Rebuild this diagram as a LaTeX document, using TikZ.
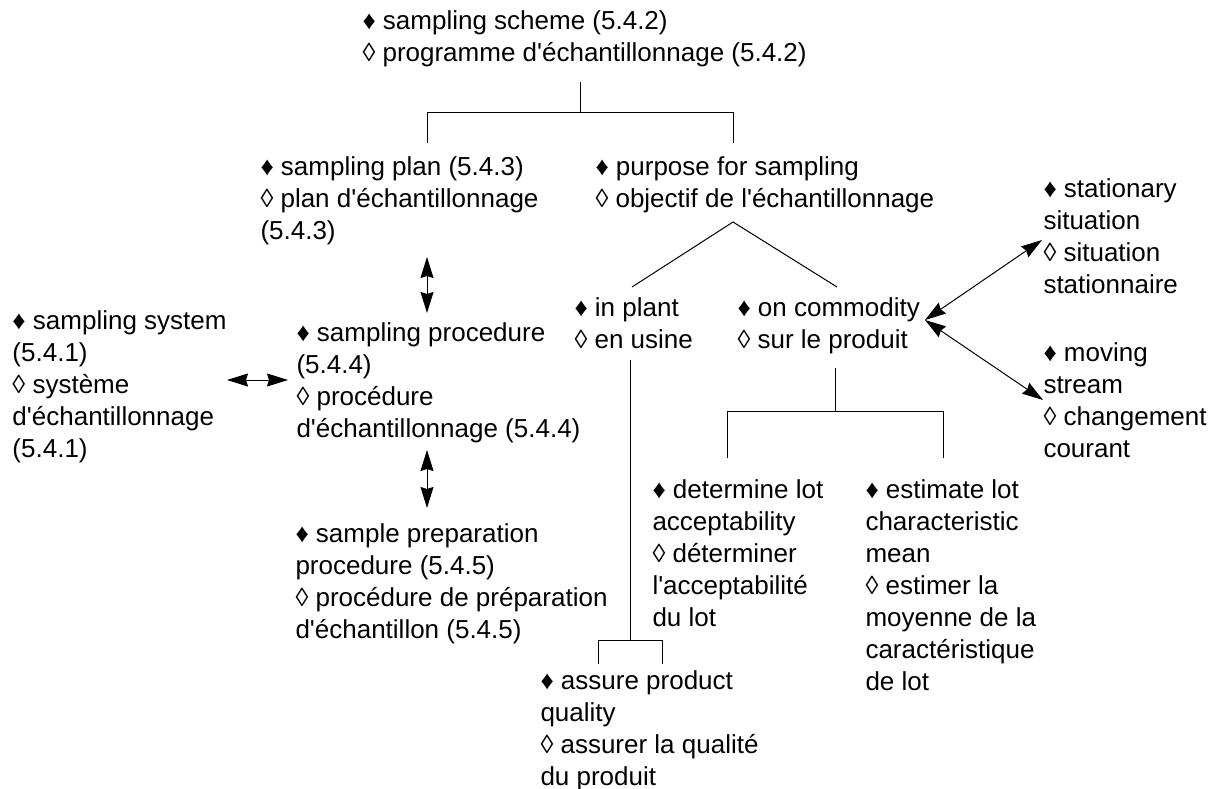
\documentclass[tikz,border=0pt]{standalone}
\usepackage{fontspec}
\setmainfont{Liberation Sans}[Ligatures=TeXOff]
\usetikzlibrary{arrows.meta}

\begin{document}
\begin{tikzpicture}[x=1pt, y=-1pt, line width=1pt,
        txt/.style={anchor=north west, align=left, inner sep=0pt, font=\fontsize{26}{32}\selectfont},
        dar/.style={{Stealth[length=21pt,width=13pt,inset=2pt]}-{Stealth[length=21pt,width=13pt,inset=2pt]}}]
        \useasboundingbox (0,0) rectangle (1216,789);
        % Begriffe
        \node[txt] (scheme) at (362,10)  {♦ sampling scheme (5.4.2)\\◊ programme d'échantillonnage (5.4.2)};
        \node[txt] (plan)   at (260,156) {♦ sampling plan (5.4.3)\\◊ plan d'échantillonnage\\(5.4.3)};
        \node[txt] (purp)   at (595,156) {♦ purpose for sampling\\◊ objectif de l'échantillonnage};
        \node[txt] (stat)   at (1043,178) {♦ stationary\\situation\\◊ situation\\stationnaire};
        \node[txt] (sys)    at (12,310)  {♦ sampling system\\(5.4.1)\\◊ système\\d'échantillonnage\\(5.4.1)};
        \node[txt] (proc)   at (296,322) {♦ sampling procedure\\(5.4.4)\\◊ procédure\\d'échantillonnage (5.4.4)};
        \node[txt] (plant)  at (574,297) {♦ in plant\\◊ en usine};
        \node[txt] (comm)   at (737,297) {♦ on commodity\\◊ sur le produit};
        \node[txt] (mov)    at (1043,342) {♦ moving\\stream\\◊ changement\\courant};
        \node[txt] (det)    at (652,479) {♦ determine lot\\acceptability\\◊ déterminer\\l'acceptabilité\\du lot};
        \node[txt] (est)    at (865,479) {♦ estimate lot\\characteristic\\mean\\◊ estimer la\\moyenne de la\\caractéristique\\de lot};
        \node[txt] (prep)   at (295,523) {♦ sample preparation\\procedure (5.4.5)\\◊ procédure de préparation\\d'échantillon (5.4.5)};
        \node[txt] (assure) at (540,670) {♦ assure product\\quality\\◊ assurer la qualité\\du produit};
        % Anschlusspunkte
        \coordinate (s0) at (580,82);   \coordinate (s1) at (580,113);
        \coordinate (sl) at (427,113);  \coordinate (sr) at (733,113);
        \coordinate (p0) at (733,222);  \coordinate (pl) at (632,287);  \coordinate (pr) at (837,287);
        \coordinate (i0) at (630,360);  \coordinate (i1) at (630,640);
        \coordinate (il) at (598,640);  \coordinate (ir) at (662,640);
        \coordinate (c0) at (835,368);  \coordinate (c1) at (835,411);
        \coordinate (cl) at (727,411);  \coordinate (cr) at (943,411);
        \coordinate (a1) at (427,257);  \coordinate (a2) at (427,313);
        \coordinate (a3) at (227,380);  \coordinate (a4) at (288,380);
        \coordinate (a5) at (427,450);  \coordinate (a6) at (427,508);
        \coordinate (a7) at (925,320);  \coordinate (a8) at (1042,240);  \coordinate (a9) at (1043,400);
        % Baum
        \draw (s0) -- (s1);
        \draw (sl |- 0,143) -- (sl) -- (sr) -- (sr |- 0,143);
        \draw (pl) -- (p0) -- (pr);
        \draw (i0) -- (i1);
        \draw (il |- 0,664) -- (il) -- (ir) -- (ir |- 0,664);
        \draw (c0) -- (c1);
        \draw (cl |- 0,458) -- (cl) -- (cr) -- (cr |- 0,458);
        % Doppelpfeile
        \draw[dar] (a1) -- (a2);
        \draw[dar] (a3) -- (a4);
        \draw[dar] (a5) -- (a6);
        \draw[dar] (a7) -- (a8);
        \draw[dar] (a7) -- (a9);
    \end{tikzpicture}
\end{document}
